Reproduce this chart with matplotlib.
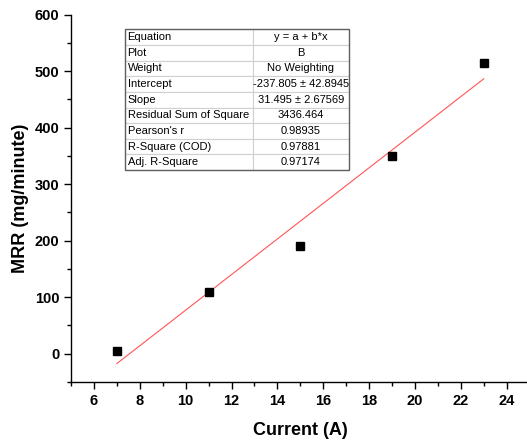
import matplotlib.pyplot as plt
import numpy as np
from matplotlib.ticker import MultipleLocator
from matplotlib.patches import Rectangle

plt.rcParams['font.family'] = ['Liberation Sans', 'DejaVu Sans']

current = [7, 11, 15, 19, 23]
mrr = [4, 110, 190, 350, 515]
intercept = -237.805
slope = 31.495

table_labels = ['Equation', 'Plot', 'Weight', 'Intercept', 'Slope',
                'Residual Sum of Square', "Pearson's r", 'R-Square (COD)',
                'Adj. R-Square']
table_values = ['y = a + b*x', 'B', 'No Weighting', '-237.805 \u00b1 42.8945',
                '31.495 \u00b1 2.67569', '3436.464', '0.98935', '0.97881',
                '0.97174']

fig = plt.figure(figsize=(5.27, 4.47), dpi=100)
ax = fig.add_axes([0.1347, 0.1454, 1.005 - 0.1347, 0.8217])

ax.plot(current, mrr, 's', color='black', ms=6.2, zorder=3)
xfit = np.array([min(current), max(current)])
ax.plot(xfit, intercept + slope * xfit, color='#ff5555', lw=0.8, zorder=2)

ax.set_xlim(5, 25)
ax.set_ylim(-50, 600)
ax.xaxis.set_major_locator(MultipleLocator(2))
ax.xaxis.set_minor_locator(MultipleLocator(1))
ax.yaxis.set_major_locator(MultipleLocator(100))
ax.yaxis.set_minor_locator(MultipleLocator(50))

ax.spines['top'].set_visible(False)
ax.spines['right'].set_visible(False)
for s in ['left', 'bottom']:
    ax.spines[s].set_linewidth(1.0)
ax.tick_params(which='major', direction='out', length=5, width=1,
               labelsize=10.5)
ax.tick_params(which='minor', direction='out', length=3, width=1)
for lbl in ax.get_xticklabels() + ax.get_yticklabels():
    lbl.set_fontweight('bold')

ax.set_xlabel('Current (A)', fontsize=13, fontweight='bold', labelpad=10)
ax.set_ylabel('MRR (mg/minute)', fontsize=13, fontweight='bold', labelpad=4)

# fit results table
tb = ax.table(cellText=[[a, b] for a, b in zip(table_labels, table_values)],
              colWidths=[0.57, 0.43], bbox=[0.1178, 0.577, 0.4884, 0.383])
tb.auto_set_font_size(False)
for (r, c), cell in tb.get_celld().items():
    cell.set_edgecolor('#d0d0d0')
    cell.set_linewidth(0.8)
    cell.set_text_props(fontsize=8)
    if c == 0:
        cell.set_text_props(ha='left')
        cell._loc = 'left'
        cell.PAD = 0.02
    else:
        cell.set_text_props(ha='center')
        cell._loc = 'center'
tb.set_zorder(4)
ax.add_patch(Rectangle((0.1178, 0.577), 0.4884, 0.383, transform=ax.transAxes,
                       fill=False, edgecolor='#606060', lw=1.0, zorder=5))

fig.savefig('out.png', dpi=100)
